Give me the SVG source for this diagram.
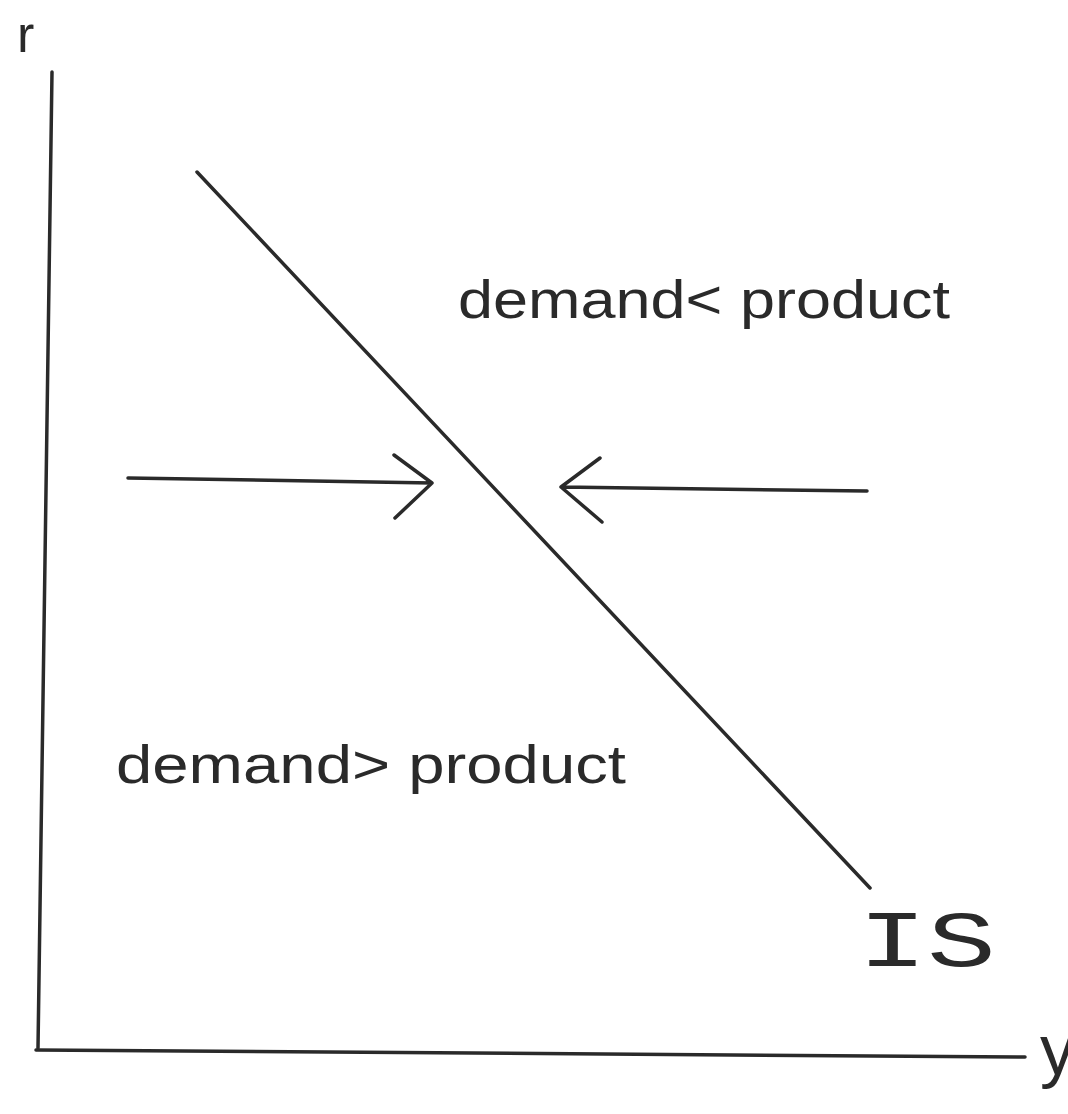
<svg xmlns="http://www.w3.org/2000/svg" width="1068" height="1114" viewBox="0 0 1068 1114">
<style>
.ln{stroke:#2a2a2a;stroke-width:3.5;fill:none;stroke-linecap:round;stroke-linejoin:round}
.tx{font-family:"Liberation Sans",Arial,sans-serif;fill:#2a2a2a}
.mo{font-family:"Liberation Mono","Courier New",monospace;fill:#2a2a2a}
</style>
<rect width="1068" height="1114" fill="#ffffff"/>
<g id="axes">
<path class="ln" d="M52 72 L38 1048"/>
<path class="ln" d="M36 1050 L1025 1057"/>
</g>
<g id="is-curve">
<path class="ln" d="M197 172 L870 888"/>
</g>
<g id="connectors">
<path class="ln" d="M128 478 L432 483 M394 455 L432 483 L395 518"/>
<path class="ln" d="M867 491 L561 487 M600 458 L561 487 L602 522"/>
</g>
<g id="labels">
<text class="tx" x="17" y="52" font-size="52">r</text>
<text class="tx" x="1040" y="1074" font-size="70">y</text>
<text class="tx" x="458" y="318" font-size="54" textLength="492" lengthAdjust="spacingAndGlyphs">demand&lt; product</text>
<text class="tx" x="116" y="783" font-size="54" textLength="510" lengthAdjust="spacingAndGlyphs">demand&gt; product</text>
<text class="mo" x="858" y="966" font-size="80" textLength="138" lengthAdjust="spacingAndGlyphs">IS</text>
</g>
</svg>
